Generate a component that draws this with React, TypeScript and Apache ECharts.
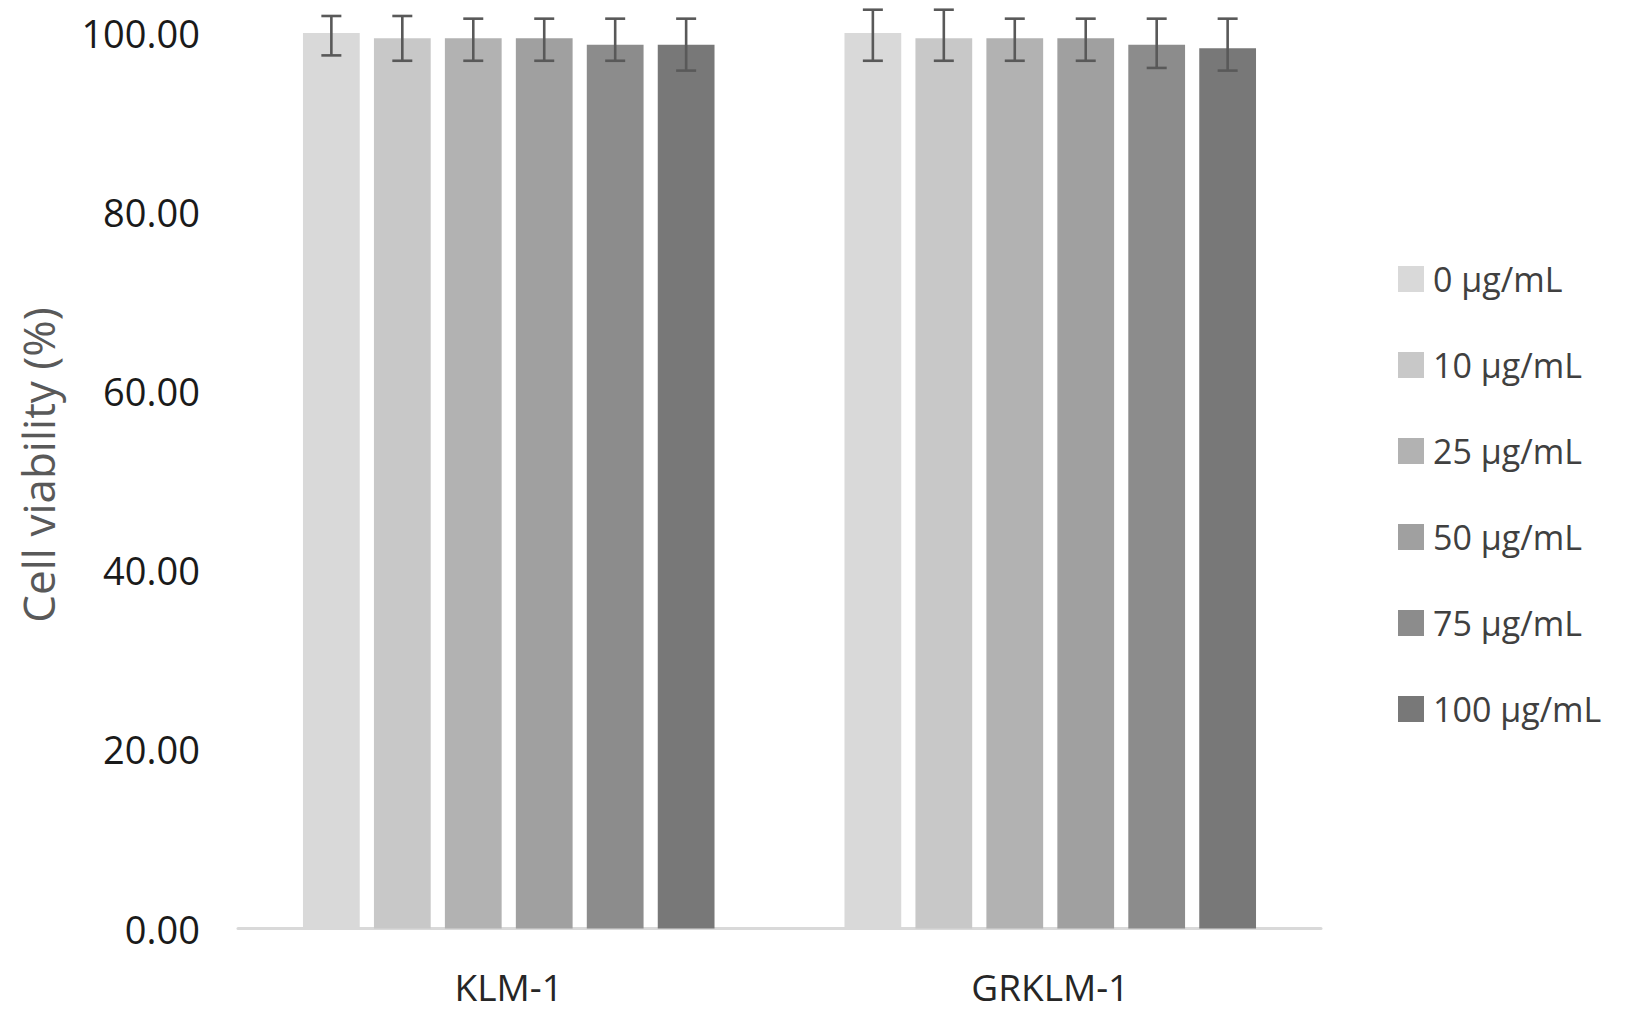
import React, { useEffect, useRef } from "react";
import * as echarts from "echarts";

const categories = ["KLM-1", "GRKLM-1"];
const concentrations = ["0 µg/mL", "10 µg/mL", "25 µg/mL", "50 µg/mL", "75 µg/mL", "100 µg/mL"];
const barColors = ["#d9d9d9", "#c8c8c8", "#b2b2b2", "#a0a0a0", "#8c8c8c", "#787878"];

// mean cell viability per concentration, [KLM-1, GRKLM-1]
const means0 = [100.0, 100.0];
const means10 = [99.4, 99.4];
const means25 = [99.4, 99.4];
const means50 = [99.4, 99.4];
const means75 = [98.7, 98.7];
const means100 = [98.7, 98.3];

// error bar low / high per concentration, [KLM-1, GRKLM-1]
const low0 = [97.5, 96.9];
const high0 = [101.9, 102.6];
const low10 = [96.9, 96.9];
const high10 = [101.9, 102.6];
const low25 = [96.9, 96.9];
const high25 = [101.6, 101.6];
const low50 = [96.9, 96.9];
const high50 = [101.6, 101.6];
const low75 = [96.9, 96.1];
const high75 = [101.6, 101.6];
const low100 = [95.8, 95.8];
const high100 = [101.6, 101.6];

const yTicks = [0, 20, 40, 60, 80, 100];

const allMeans = [means0, means10, means25, means50, means75, means100];
const allLows = [low0, low10, low25, low50, low75, low100];
const allHighs = [high0, high10, high25, high50, high75, high100];

const CAT_GAP = 0.24;
const BAR_GAP = 0.25;
const FONT = "'Open Sans', 'Liberation Sans', sans-serif";

export default function App() {
  const ref = useRef<HTMLDivElement>(null);

  useEffect(() => {
    document.body.style.margin = "0";
    if (!ref.current) return;
    const chart = echarts.init(ref.current, null, { renderer: "svg" });

    const nSeries = concentrations.length;
    const errData: number[][] = [];
    for (let s = 0; s < nSeries; s++) {
      for (let c = 0; c < categories.length; c++) {
        errData.push([c, allLows[s][c], allHighs[s][c], s]);
      }
    }

    const barSeries = concentrations.map((name, s) => ({
      name,
      type: "bar",
      data: allMeans[s],
      barCategoryGap: (CAT_GAP * 100) + "%",
      barGap: (BAR_GAP * 100) + "%",
      itemStyle: { color: barColors[s] },
      emphasis: { disabled: true },
    }));

    const option = {
      animation: false,
      grid: { left: 238, right: 305, top: 33, bottom: 87.5, containLabel: false },
      legend: {
        orient: "vertical",
        left: 1393,
        top: 257,
        itemWidth: 26,
        itemHeight: 26,
        itemGap: 52,
        icon: "rect",
        data: concentrations,
        textStyle: {
          fontFamily: FONT,
          fontSize: 34,
          color: "#404040",
          padding: [0, 0, 0, 4],
        },
      },
      xAxis: {
        type: "category",
        data: categories,
        axisLine: { show: true, lineStyle: { color: "#d9d9d9", width: 3 } },
        axisTick: { show: false },
        axisLabel: { fontFamily: FONT, fontSize: 37, lineHeight: 38, color: "#262626", margin: 39 },
        splitLine: { show: false },
      },
      yAxis: {
        type: "value",
        min: yTicks[0],
        max: yTicks[yTicks.length - 1],
        interval: yTicks[1] - yTicks[0],
        axisLine: { show: false },
        axisTick: { show: false },
        splitLine: { show: false },
        axisLabel: {
          fontFamily: FONT,
          fontSize: 38,
          color: "#1a1a1a",
          margin: 38,
          formatter: (v: number) => v.toFixed(2),
        },
      },
      graphic: [
        {
          type: "text",
          x: 38,
          y: 465,
          rotation: Math.PI / 2,
          style: {
            text: "Cell viability (%)",
            fontFamily: FONT,
            fontSize: 44,
            fill: "#595959",
            align: "center",
            verticalAlign: "middle",
          },
        },
      ],
      series: [
        ...barSeries,
        {
          type: "custom",
          name: "error",
          clip: false,
          silent: true,
          z: 10,
          data: errData,
          encode: { x: 0, y: [1, 2] },
          renderItem: (params: any, api: any) => {
            const c = api.value(0);
            const lo = api.value(1);
            const hi = api.value(2);
            const s = api.value(3);
            const bandW = api.size([1, 0])[0];
            const usable = bandW * (1 - CAT_GAP);
            const w = usable / (nSeries + (nSeries - 1) * BAR_GAP);
            const pLo = api.coord([c, lo]);
            const pHi = api.coord([c, hi]);
            const cx = pLo[0] - usable / 2 + s * w * (1 + BAR_GAP) + w / 2;
            const half = 10;
            const style = { stroke: "#595959", lineWidth: 2.6 };
            return {
              type: "group",
              children: [
                { type: "line", shape: { x1: cx, y1: pLo[1], x2: cx, y2: pHi[1] }, style },
                { type: "line", shape: { x1: cx - half, y1: pLo[1], x2: cx + half, y2: pLo[1] }, style },
                { type: "line", shape: { x1: cx - half, y1: pHi[1], x2: cx + half, y2: pHi[1] }, style },
              ],
            };
          },
        },
      ],
    };

    chart.setOption(option as any);
    return () => chart.dispose();
  }, []);

  return <div ref={ref} style={{ width: 1626, height: 1016 }} />;
}
